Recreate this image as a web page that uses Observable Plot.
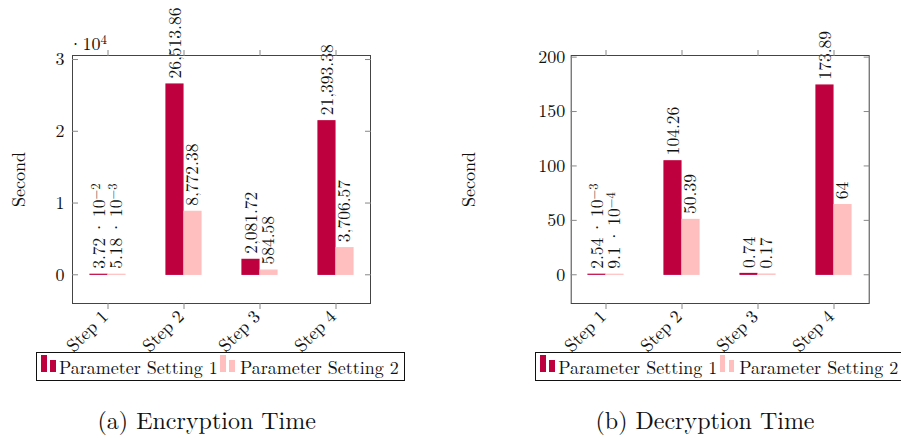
<!DOCTYPE html>
<html><head><meta charset="utf-8">
<script src="https://cdn.jsdelivr.net/npm/d3@7"></script>
<script src="https://cdn.jsdelivr.net/npm/@observablehq/plot@0.6"></script>
<style>
body{margin:0;background:#fff;}
#root{position:relative;width:901px;height:438px;overflow:hidden;font-family:'Latin Modern Roman','Liberation Serif',serif;color:#111;}
.panel{position:absolute;top:0;}
.panel svg{display:block;}
.legend{position:absolute;top:352px;width:367px;height:27px;border:1px solid #111;background:#fff;}
.legend .bar{position:absolute;}
.legend .lab{position:absolute;top:5px;font-size:18px;line-height:18px;white-space:nowrap;}
.caption{position:absolute;top:407px;width:300px;text-align:center;font-size:24px;line-height:24px;white-space:nowrap;}
</style></head><body><div id="root"></div>
<script>
// ---- data ----
const steps = ["Step 1", "Step 2", "Step 3", "Step 4"];
const settings = ["Parameter Setting 1", "Parameter Setting 2"];
const encSetting1 = [0.0372, 26513.86, 2081.72, 21393.38];
const encSetting2 = [0.00518, 8772.38, 584.58, 3706.57];
const decSetting1 = [0.00254, 104.26, 0.74, 173.89];
const decSetting2 = [0.00091, 50.39, 0.17, 64];
const encTicks = [0, 10000, 20000, 30000];
const encTickLabels = ["0", "1", "2", "3"];
const decTicks = [0, 50, 100, 150, 200];
const encExponent = "·10^4";
const yLabel = "Second";
const captions = ["(a) Encryption Time", "(b) Decryption Time"];
const colors = ["#bf003f", "#ffbfbf"];

// ---- helpers ----
const FONT = "'Latin Modern Roman', 'Liberation Serif', serif";
function fmt(v) {
  if (v < 0.1) {
    const e = Math.floor(Math.log10(v));
    const m = +(v / Math.pow(10, e)).toFixed(2);
    return `${m}\u2009·\u200910^−${-e}`;
  }
  return d3.format(",")(+v.toFixed(2));
}
const NS = "http://www.w3.org/2000/svg";
function superscripts(svg) {
  svg.querySelectorAll("text").forEach(t => {
    const s = t.textContent;
    const i = s.indexOf("^");
    if (i < 0 || t.querySelector("tspan")) return;
    t.textContent = s.slice(0, i);
    const ts = document.createElementNS(NS, "tspan");
    ts.setAttribute("dy", "-0.42em");
    ts.setAttribute("font-size", "0.72em");
    ts.textContent = s.slice(i + 1);
    t.appendChild(ts);
  });
}

function makePanel({s1, s2, yDomain, ticks, tickFormat, width, marginLeft, marginRight, labelPad, exponent}) {
  const rows = (vals, k) => steps.map((step, i) => ({step, setting: settings[k], value: vals[i]}));
  const d1 = rows(s1, 0), d2 = rows(s2, 1);
  const pi = 0.541, po = 0.22;
  const frameW = width - marginLeft - marginRight;
  const bw = frameW / (steps.length - pi + 2 * po) * (1 - pi);
  const half = bw / 2;
  const textOpts = {x: "step", y: "value", text: d => fmt(d.value), rotate: -90, textAnchor: "start", lineAnchor: "middle", dy: -6, fill: "#111", fontSize: 17.5};
  const marks = [
    Plot.barY(d1, {x: "step", y: "value", fill: colors[0], stroke: colors[0], strokeWidth: 1.2, insetRight: half + 0.5}),
    Plot.barY(d2, {x: "step", y: "value", fill: colors[1], stroke: colors[1], strokeWidth: 1.2, insetLeft: half + 0.5}),
    Plot.text(d1, {...textOpts, dx: -bw / 4}),
    Plot.text(d2, {...textOpts, dx: bw / 4}),
    Plot.frame({stroke: "#444", strokeWidth: 1}),
    Plot.axisX({anchor: "bottom", tickSize: 6, stroke: "#888", fill: "none", label: null}),
    Plot.axisX({anchor: "top", tickSize: 6, stroke: "#888", fill: "none", label: null}),
    Plot.axisX({anchor: "bottom", tickSize: 0, tickPadding: 10, tickRotate: -45, dx: -3, fill: "#111", label: null}),
    Plot.axisY({anchor: "left", ticks, tickSize: 6, dx: 6, stroke: "#888", fill: "none", label: null}),
    Plot.axisY({anchor: "right", ticks, tickSize: 6, dx: -6, stroke: "#888", fill: "none", label: null}),
    Plot.axisY({anchor: "left", ticks, tickSize: 0, tickPadding: labelPad, tickFormat, fill: "#111", label: null}),
    Plot.text([yLabel], {text: d => d, frameAnchor: "left", rotate: -90, textAnchor: "middle", lineAnchor: "middle", dx: -(marginLeft - 19), fill: "#111"})
  ];
  if (exponent) marks.push(Plot.text([exponent], {text: d => d, frameAnchor: "top-left", textAnchor: "start", lineAnchor: "middle", dx: -4, dy: -11.5, fill: "#111"}));
  const svg = Plot.plot({
    width, height: 352,
    marginLeft, marginRight, marginTop: 55, marginBottom: 49,
    style: {fontFamily: FONT, fontSize: "18px", color: "#111", background: "transparent", overflow: "visible"},
    x: {domain: steps, paddingInner: pi, paddingOuter: po},
    y: {domain: yDomain},
    marks
  });
  superscripts(svg);
  return svg;
}

function makeLegend(left) {
  const box = document.createElement("div");
  box.className = "legend";
  box.style.left = left + "px";
  const items = [
    {c: colors[0], iconLeft: 4, textLeft: 22},
    {c: colors[1], iconLeft: 183.3, textLeft: 203}
  ];
  items.forEach((it, k) => {
    const a = document.createElement("div");
    a.className = "bar";
    Object.assign(a.style, {left: it.iconLeft + "px", top: "2.4px", width: "5.5px", height: "16.6px", background: it.c});
    const b = document.createElement("div");
    b.className = "bar";
    Object.assign(b.style, {left: (it.iconLeft + 9) + "px", top: "7.4px", width: "5.7px", height: "11.6px", background: it.c});
    const t = document.createElement("div");
    t.className = "lab";
    t.style.left = it.textLeft + "px";
    t.textContent = settings[k];
    box.append(a, b, t);
  });
  return box;
}

const root = document.getElementById("root");
const configs = [
  {left: 0, width: 450, s1: encSetting1, s2: encSetting2, yDomain: [-4000, 30560], ticks: encTicks,
   tickFormat: d => encTickLabels[encTicks.indexOf(d)], marginLeft: 72, marginRight: 80, labelPad: 8, exponent: encExponent,
   legendLeft: 36, captionCenter: 206.7},
  {left: 450, width: 451, s1: decSetting1, s2: decSetting2, yDomain: [-26.4, 201.5], ticks: decTicks,
   tickFormat: d => String(d), marginLeft: 120.7, marginRight: 32.3, labelPad: 6, exponent: null,
   legendLeft: 535.3, captionCenter: 705}
];
configs.forEach((c, k) => {
  const p = document.createElement("div");
  p.className = "panel";
  p.style.left = c.left + "px";
  p.style.width = c.width + "px";
  p.appendChild(makePanel(c));
  root.appendChild(p);
  root.appendChild(makeLegend(c.legendLeft));
  const cap = document.createElement("div");
  cap.className = "caption";
  cap.style.left = (c.captionCenter - 150) + "px";
  cap.textContent = captions[k];
  root.appendChild(cap);
});
</script></body></html>
